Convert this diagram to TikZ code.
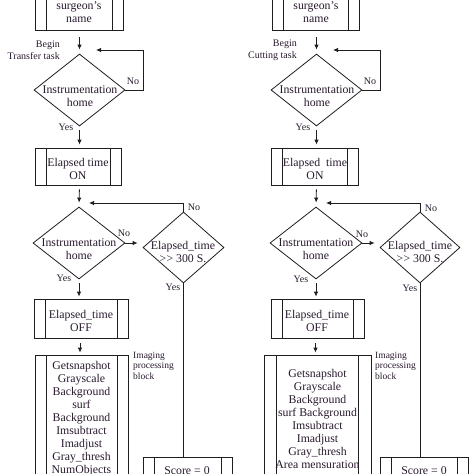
\documentclass[tikz,border=0pt]{standalone}
\usepackage{fontspec}
\setmainfont{Liberation Serif}[Ligatures=NoCommon]
\usetikzlibrary{shapes.geometric,arrows.meta,calc}
\definecolor{linec}{RGB}{30,30,30}
\definecolor{txtc}{RGB}{40,25,45}
\newcommand{\gtgt}{\textgreater\kern0.3pt\textgreater}
\begin{document}
\begin{tikzpicture}[x=1pt,y=-1pt,
  every node/.style={text=txtc},
  txt/.style={font=\fontsize{11.8}{13}\selectfont, align=center, inner sep=0pt},
  small/.style={font=\fontsize{10}{12}\selectfont, inner sep=0pt},
  tiny/.style={font=\fontsize{9.5}{10.5}\selectfont, align=left, inner sep=0pt},
  proc/.style={draw=linec, line width=0.8pt, inner sep=0pt, font=\fontsize{11.8}{13}\selectfont, align=center,
    path picture={\draw[linec, line width=0.8pt]
      ([xshift=#1]path picture bounding box.north west) -- ([xshift=#1]path picture bounding box.south west)
      ([xshift=-#1]path picture bounding box.north east) -- ([xshift=-#1]path picture bounding box.south east);}},
  proc/.default=11pt,
  dia/.style={draw=linec, line width=0.8pt, diamond, inner sep=0pt},
  arr/.style={draw=linec, line width=0.8pt, -{Latex[length=5pt,width=4.5pt]}},
  ln/.style={draw=linec, line width=0.8pt}]
\path[use as bounding box, clip] (0,0) rectangle (474,474);

% ================= LEFT COLUMN =================
\node[proc, minimum width=88pt, minimum height=44pt] (b1L) at (79,8) {};
\node[txt] (b1Lt) at (79,12) {surgeon's\\name};
\node[small, anchor=east, align=right] (beginL) at (60,50.5) {Begin\\Transfer task};

\node[dia, minimum width=91pt, minimum height=72pt] (d1L) at (79.5,90) {};
\node[txt] (d1Lt) at (80,96) {Instrumentation\\home};
\node[small] (noL1) at (133,81) {No};
\node[small] (yesL1) at (66,127) {Yes};

\node[proc, minimum width=86pt, minimum height=37pt] (b2L) at (78,166.5) {};
\node[txt] (b2Lt) at (78,168.5) {Elapsed time\\ON};

\node[dia, minimum width=92pt, minimum height=72pt] (d2L) at (79,243) {};
\node[txt] (d2Lt) at (79,249) {Instrumentation\\home};
\node[small] (noL2) at (124,233) {No};
\node[small] (yesL2) at (64,278) {Yes};

\node[dia, minimum width=81pt, minimum height=71pt] (d3L) at (183.5,247.5) {};
\node[txt] (d3Lt) at (183,252) {Elapsed\_time\\\gtgt{} 300 S.};
\node[small] (noL3) at (194,207) {No};
\node[small] (yesL3) at (173,287) {Yes};

\node[proc, minimum width=94pt, minimum height=39pt] (b3L) at (81,318.5) {};
\node[txt] (b3Lt) at (81,320.5) {Elapsed\_time\\OFF};

\node[proc, minimum width=93pt, minimum height=128pt] (b4L) at (81.5,419) {};
\node[txt] (b4Lt) at (81.5,418.5) {Getsnapshot\\Grayscale\\Background\\surf\\Background\\Imsubtract\\Imadjust\\Gray\_thresh\\NumObjects};
\node[tiny, anchor=north west] (imgL) at (133,352) {Imaging\\processing\\block};

\node[proc, minimum width=89pt, minimum height=30pt] (sL) at (187.5,472) {};
\node[txt] (sLt) at (187,470.5) {Score = 0};

\coordinate (l1aL) at (143,50);
\coordinate (l1bL) at (96,50);
\coordinate (l2aL) at (183.5,203);
\coordinate (l2bL) at (89,203);

\draw[arr, shorten <=7pt, shorten >=4pt] (b1L.south -| d1L.north) -- (d1L.north);
\draw[arr] (d1L.east) -| (l1aL) -- (l1bL);
\draw[arr, shorten <=4pt, shorten >=3pt] (d1L.south) -- (d1L.south |- b2L.north);
\draw[arr, shorten <=4pt, shorten >=4pt] (d1L.south |- b2L.south) -- (d2L.north);
\draw[arr, shorten >=5pt] (d2L.east) -- (d2L.east -| d3L.west);
\draw[arr] (d3L.north) -- (l2aL) -- (l2bL);
\draw[ln] (d3L.south) -- (d3L.south |- sL.north);
\draw[arr, shorten <=4pt, shorten >=2pt] (d2L.south) -- (d2L.south |- b3L.north);
\draw[arr, shorten <=5pt, shorten >=2pt] ($(b3L.south)+(-1,0)$) -- ($(b4L.north)+(-1.5,0)$);

% ================= RIGHT COLUMN =================
\node[proc, minimum width=87pt, minimum height=44pt] (b1R) at (315.5,8) {};
\node[txt] (b1Rt) at (316,12) {surgeon's\\name};
\node[small, anchor=east, align=right] (beginR) at (297,50.5) {Begin\\Cutting task};

\node[dia, minimum width=91pt, minimum height=72pt] (d1R) at (316.5,90) {};
\node[txt] (d1Rt) at (317,96.5) {Instrumentation\\home};
\node[small] (noR1) at (370,81) {No};
\node[small] (yesR1) at (303,127) {Yes};

\node[proc, minimum width=87pt, minimum height=37pt] (b2R) at (314.5,166.5) {};
\node[txt] (b2Rt) at (315,168.5) {Elapsed\ \ time\\ON};

\node[dia, minimum width=92pt, minimum height=72pt] (d2R) at (316,243) {};
\node[txt] (d2Rt) at (316,249.5) {Instrumentation\\home};
\node[small] (noR2) at (362,234) {No};
\node[small] (yesR2) at (301,279) {Yes};

\node[dia, minimum width=80pt, minimum height=71pt] (d3R) at (420,247.5) {};
\node[txt] (d3Rt) at (420,252) {Elapsed\_time\\\gtgt{} 300 S.};
\node[small] (noR3) at (431,208) {No};
\node[small] (yesR3) at (410,288) {Yes};

\node[proc, minimum width=93pt, minimum height=39pt] (b3R) at (317.5,318.5) {};
\node[txt] (b3Rt) at (317,320.5) {Elapsed\_time\\OFF};

\node[proc=12.5pt, minimum width=107pt, minimum height=128pt] (b4R) at (317.5,419) {};
\node[txt] (b4Rt) at (317.5,418.5) {Getsnapshot\\Grayscale\\Background\\surf Background\\Imsubtract\\Imadjust\\Gray\_thresh\\Area mensuration};
\node[tiny, anchor=north west] (imgR) at (375,352) {Imaging\\processing\\block};

\node[proc, minimum width=88pt, minimum height=30pt] (sR) at (424,472) {};
\node[txt] (sRt) at (424,470.5) {Score = 0};

\coordinate (l1aR) at (380,50);
\coordinate (l1bR) at (333,50);
\coordinate (l2aR) at (420,203);
\coordinate (l2bR) at (326,203);

\draw[arr, shorten <=7pt, shorten >=4pt] (b1R.south -| d1R.north) -- (d1R.north);
\draw[arr] (d1R.east) -| (l1aR) -- (l1bR);
\draw[arr, shorten <=4pt, shorten >=3pt] (d1R.south) -- (d1R.south |- b2R.north);
\draw[arr, shorten <=4pt, shorten >=4pt] (d1R.south |- b2R.south) -- (d2R.north);
\draw[arr, shorten >=5pt] (d2R.east) -- (d2R.east -| d3R.west);
\draw[arr] (d3R.north) -- (l2aR) -- (l2bR);
\draw[ln] (d3R.south) -- (d3R.south |- sR.north);
\draw[arr, shorten <=4pt, shorten >=2pt] (d2R.south) -- (d2R.south |- b3R.north);
\draw[arr, shorten <=5pt, shorten >=2pt] ($(b3R.south)+(-2,0)$) -- ($(b4R.north)+(-2,0)$);
\end{tikzpicture}
\end{document}
